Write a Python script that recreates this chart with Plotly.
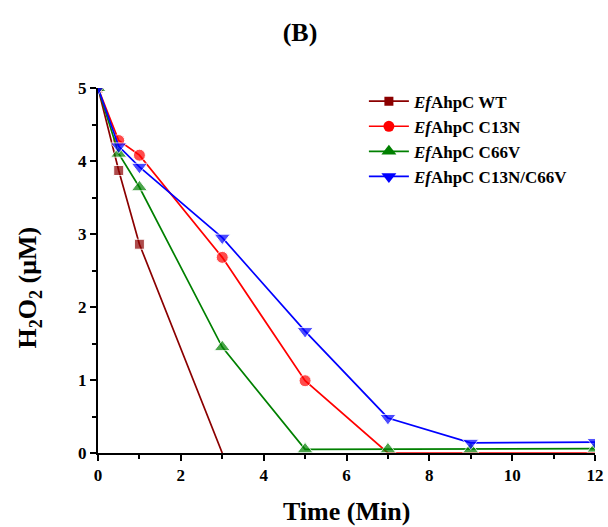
import plotly.graph_objects as go

t_wt = [0, 0.5, 1, 3]
wt = [5.0, 3.87, 2.86, 0.0]

t_c13n = [0, 0.5, 1, 3, 5, 7, 9, 12]
c13n = [5.0, 4.28, 4.08, 2.68, 0.99, 0.0, 0.0, 0.0]

t_c66v = [0, 0.5, 1, 3, 5, 7, 9, 12]
c66v = [5.0, 4.10, 3.64, 1.45, 0.05, 0.05, 0.05, 0.06]

t_dbl = [0, 0.5, 1, 3, 5, 7, 9, 12]
dbl = [5.0, 4.20, 3.92, 2.95, 1.67, 0.48, 0.14, 0.15]

x_ticks = [0, 2, 4, 6, 8, 10, 12]
y_ticks = [0, 1, 2, 3, 4, 5]

names = ["<i>Ef</i>AhpC WT", "<i>Ef</i>AhpC C13N", "<i>Ef</i>AhpC C66V", "<i>Ef</i>AhpC C13N/C66V"]
colors = ["#8B0000", "#FF0000", "#008000", "#0000FF"]
symbols = ["square", "circle", "triangle-up", "triangle-down"]
base_sizes = [10, 12, 14, 14]
xs = [t_wt, t_c13n, t_c66v, t_dbl]
ys = [wt, c13n, c66v, dbl]

fig = go.Figure()
for x, y, n, c, s, bs in zip(xs, ys, names, colors, symbols, base_sizes):
    # markers sitting exactly on the x axis are hidden in the reference
    sizes = [bs if (v > 0 or i == 0) else 0 for i, v in enumerate(y)]
    fig.add_trace(go.Scatter(x=x, y=y, name=n, mode="lines+markers", showlegend=False,
                             line=dict(color=c, width=1.7),
                             marker=dict(color=c, symbol=s, size=sizes)))
# legend entries (constant marker size)
for n, c, s, bs in zip(names, colors, symbols, base_sizes):
    fig.add_trace(go.Scatter(x=[None], y=[None], name=n, mode="lines+markers",
                             line=dict(color=c, width=1.7),
                             marker=dict(color=c, symbol=s, size=bs - 1)))

font = "Liberation Serif, Times New Roman, serif"
axis_common = dict(showline=True, linecolor="black", linewidth=2, ticks="outside",
                   ticklen=6, tickwidth=2, tickcolor="black", showgrid=False,
                   zeroline=False, mirror=False, automargin=False,
                   tickfont=dict(family=font, size=17, color="black", weight="bold"))

# plot area target (page px) x 98..595, y 88..453
fig.update_layout(
    width=608, height=527,
    paper_bgcolor="white", plot_bgcolor="white",
    margin=dict(l=98, r=13, t=88, b=74),
    title=dict(text="<b>(B)</b>", x=300 / 608, xanchor="center", xref="container",
               y=1 - 32 / 527, yref="container", yanchor="middle",
               font=dict(family=font, size=26, color="black")),
    xaxis=dict(range=[0, 12], tickvals=x_ticks,
               minor=dict(ticks="outside", dtick=1, tick0=0, ticklen=4, tickwidth=2, tickcolor="black"),
               **axis_common),
    yaxis=dict(range=[0, 5], tickvals=y_ticks,
               minor=dict(ticks="outside", dtick=0.5, tick0=0, ticklen=4, tickwidth=2, tickcolor="black"),
               **axis_common),
    legend=dict(x=0.535, y=1.012, xanchor="left", yanchor="top",
                bgcolor="rgba(0,0,0,0)", tracegroupgap=0, itemwidth=40,
                font=dict(family=font, size=17, color="black", weight="bold")),
    showlegend=True,
    annotations=[
        dict(text="<b>Time (Min)</b>", xref="paper", yref="paper", x=0.5, y=-0.159,
             xanchor="center", yanchor="middle", showarrow=False,
             font=dict(family=font, size=26, color="black")),
        dict(text="<b>H<sub>2</sub>O<sub>2</sub> (μM)</b>", xref="paper", yref="paper",
             x=-0.139, y=0.453, xanchor="center", yanchor="middle", textangle=-90,
             showarrow=False, font=dict(family=font, size=26, color="black")),
    ],
)

fig.write_html("out.html", config={"displayModeBar": False},
               post_script="document.documentElement.style.margin='0';"
                           "document.body.style.margin='0';"
                           "document.body.style.overflow='hidden';")
